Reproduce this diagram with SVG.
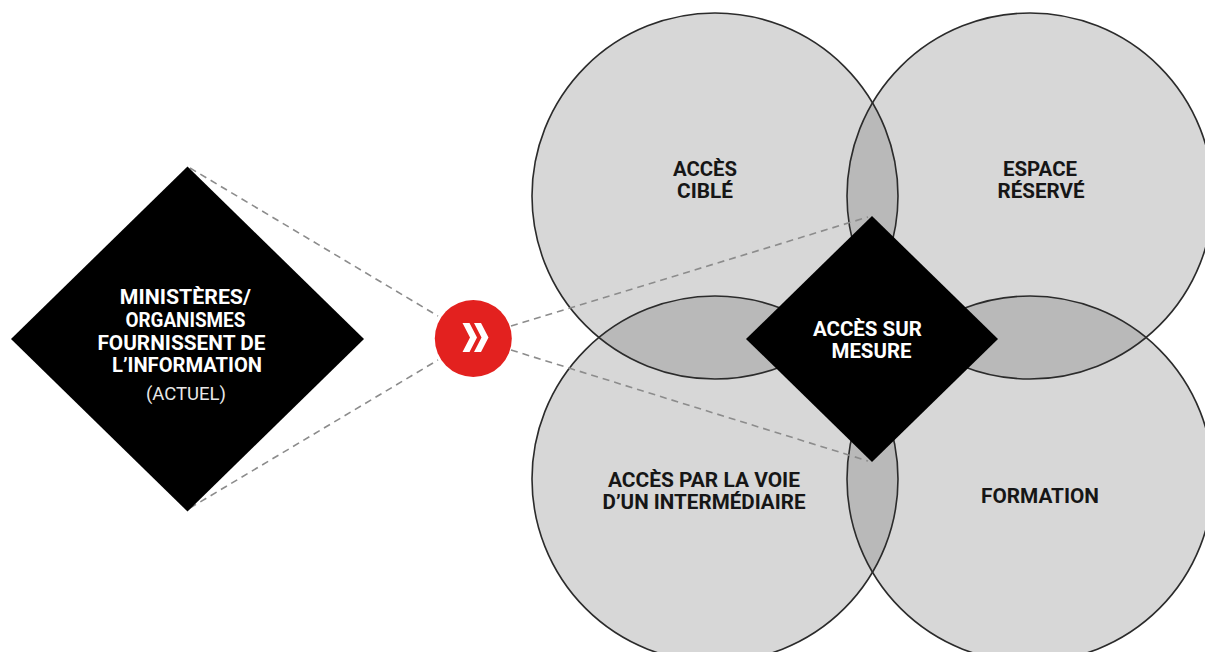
<svg xmlns="http://www.w3.org/2000/svg" xmlns:xlink="http://www.w3.org/1999/xlink" width="1205" height="652" viewBox="0 0 1205 652">
  <style>
    .set { fill: #d7d7d7; }
    .lens { fill: #b9b9b9; }
    .outline { fill: none; stroke: #2b2b2b; stroke-width: 1.6; }
    .dash { fill: none; stroke: #8c8c8c; stroke-width: 1.6; stroke-dasharray: 7 5; }
    .lbl { font-family: Roboto, "Liberation Sans", sans-serif; font-weight: 700; font-size: 21px; fill: #161616; text-anchor: middle; }
    .wlbl { font-family: Roboto, "Liberation Sans", sans-serif; font-weight: 700; fill: #ffffff; text-anchor: middle; }
    .note { font-family: Roboto, "Liberation Sans", sans-serif; font-weight: 400; font-size: 19px; fill: #e8e8e8; text-anchor: middle; }
  </style>
  <defs>
    <circle id="cTL" cx="715" cy="196" r="183"/>
    <circle id="cTR" cx="1030" cy="196" r="183"/>
    <circle id="cBL" cx="715" cy="479" r="183"/>
    <circle id="cBR" cx="1030" cy="479" r="183"/>
    <clipPath id="clipTL"><use xlink:href="#cTL"/></clipPath>
    <clipPath id="clipTR"><use xlink:href="#cTR"/></clipPath>
    <clipPath id="clipBL"><use xlink:href="#cBL"/></clipPath>
  </defs>

  <rect width="1205" height="652" fill="#ffffff"/>

  <!-- four overlapping sets -->
  <g id="venn">
    <g id="set-acces-cible">
      <use xlink:href="#cTL" class="set"/>
    </g>
    <g id="set-espace-reserve">
      <use xlink:href="#cTR" class="set"/>
    </g>
    <g id="set-acces-intermediaire">
      <use xlink:href="#cBL" class="set"/>
    </g>
    <g id="set-formation">
      <use xlink:href="#cBR" class="set"/>
    </g>
    <!-- pairwise intersections -->
    <g id="overlaps">
      <use xlink:href="#cTR" class="lens" clip-path="url(#clipTL)"/>
      <use xlink:href="#cBL" class="lens" clip-path="url(#clipTL)"/>
      <use xlink:href="#cBR" class="lens" clip-path="url(#clipTR)"/>
      <use xlink:href="#cBR" class="lens" clip-path="url(#clipBL)"/>
    </g>
    <g id="outlines">
      <use xlink:href="#cTL" class="outline"/>
      <use xlink:href="#cTR" class="outline"/>
      <use xlink:href="#cBL" class="outline"/>
      <use xlink:href="#cBR" class="outline"/>
    </g>
    <g id="set-labels">
      <text class="lbl"><tspan x="705" y="176" textLength="64" lengthAdjust="spacingAndGlyphs">ACCÈS</tspan><tspan x="705" y="198" textLength="56" lengthAdjust="spacingAndGlyphs">CIBLÉ</tspan></text>
      <text class="lbl"><tspan x="1040" y="176" textLength="74" lengthAdjust="spacingAndGlyphs">ESPACE</tspan><tspan x="1041" y="198" textLength="87" lengthAdjust="spacingAndGlyphs">RÉSERVÉ</tspan></text>
      <text class="lbl"><tspan x="704" y="487" textLength="192" lengthAdjust="spacingAndGlyphs">ACCÈS PAR LA VOIE</tspan><tspan x="704" y="509" textLength="203" lengthAdjust="spacingAndGlyphs">D’UN INTERMÉDIAIRE</tspan></text>
      <text class="lbl" x="1040" y="503" textLength="118" lengthAdjust="spacingAndGlyphs">FORMATION</text>
    </g>
  </g>

  <!-- dashed connectors -->
  <g id="connectors">
    <line class="dash" x1="190" y1="168" x2="438" y2="316"/>
    <line class="dash" x1="190" y1="508" x2="438" y2="360"/>
    <line class="dash" x1="511" y1="326" x2="868" y2="217"/>
    <line class="dash" x1="511" y1="350" x2="868" y2="461"/>
  </g>

  <!-- source node -->
  <g id="node-ministeres">
    <polygon points="187.5,166.5 364,339 187.5,511.5 11,339" fill="#000000"/>
    <text class="wlbl" font-size="21">
      <tspan x="188" y="304" textLength="131" lengthAdjust="spacingAndGlyphs">MINISTÈRES/</tspan>
      <tspan x="188" y="327" textLength="120" lengthAdjust="spacingAndGlyphs">ORGANISMES</tspan>
      <tspan x="184" y="349.5" textLength="168" lengthAdjust="spacingAndGlyphs">FOURNISSENT DE</tspan>
      <tspan x="187" y="372" textLength="150" lengthAdjust="spacingAndGlyphs">L’INFORMATION</tspan>
    </text>
    <text class="note" x="186" y="400" textLength="80" lengthAdjust="spacingAndGlyphs">(ACTUEL)</text>
  </g>

  <!-- forward marker -->
  <g id="node-forward">
    <circle cx="473.3" cy="338.5" r="38.5" fill="#e3211f"/>
    <polygon points="462.5,323 469.5,323 477,337.5 469.5,352 462.5,352 470,337.5" fill="#ffffff"/>
    <polygon points="474,323 481,323 488.5,337.5 481,352 474,352 481.5,337.5" fill="#ffffff"/>
  </g>

  <!-- centre node -->
  <g id="node-acces-sur-mesure">
    <polygon points="872,216 998,339 872,462 746,339" fill="#000000"/>
    <text class="wlbl" font-size="21">
      <tspan x="870" y="336" textLength="109" lengthAdjust="spacingAndGlyphs">ACCÈS SUR</tspan>
      <tspan x="871.5" y="358" textLength="80" lengthAdjust="spacingAndGlyphs">MESURE</tspan>
    </text>
  </g>
</svg>
